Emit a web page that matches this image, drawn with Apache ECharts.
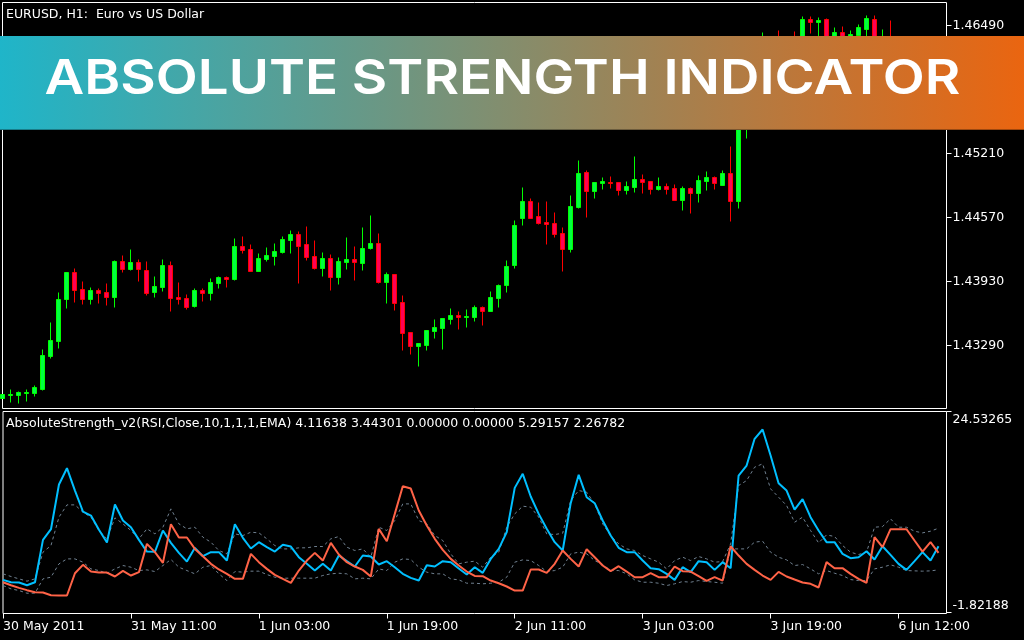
<!DOCTYPE html>
<html>
<head>
<meta charset="utf-8">
<style>html,body{margin:0;padding:0;background:#000}#chart{width:1024px;height:640px}</style>
<script src="https://cdn.jsdelivr.net/npm/echarts@6/dist/echarts.min.js"></script>
</head>
<body>
<div id="chart"></div>
<script>
// EURUSD H1 candles (bars 92 onward are mostly behind the banner, so estimated)
const opens = [1.4276,1.4279,1.4279,1.4281,1.4281,1.4285,1.4318,1.4333,1.4375,1.4402,1.4385,1.4375,1.4384,1.4382,1.4377,1.4413,1.4405,1.4412,1.4404,1.4382,1.4387,1.4409,1.4377,1.4376,1.4368,1.4384,1.4381,1.4391,1.4397,1.4395,1.4428,1.4425,1.4403,1.4415,1.4418,1.4422,1.4434,1.4440,1.4430,1.4418,1.4406,1.4416,1.4397,1.4412,1.4415,1.4411,1.4426,1.4431,1.4392,1.4400,1.4372,1.4342,1.4328,1.4329,1.4343,1.4346,1.4355,1.4359,1.4357,1.4357,1.4367,1.4363,1.4376,1.4389,1.4409,1.4456,1.4473,1.4458,1.4452,1.4451,1.4441,1.4425,1.4467,1.4502,1.4483,1.4491,1.4492,1.4492,1.4484,1.4487,1.4495,1.4493,1.4485,1.4488,1.4486,1.4474,1.4486,1.4481,1.4493,1.4497,1.4489,1.4501,1.4473,1.4574,1.4609,1.4619,1.4630,1.4634,1.4624,1.4636,1.4629,1.4655,1.4652,1.4655,1.4614,1.4642,1.4624,1.4639,1.4645,1.4655,1.4619,1.4634,1.4616,1.4609,1.4596,1.4606,1.4596,1.4588];
const closes = [1.4280,1.4280,1.4282,1.4282,1.4287,1.4319,1.4334,1.4375,1.4402,1.4384,1.4375,1.4384,1.4381,1.4377,1.4413,1.4405,1.4412,1.4405,1.4381,1.4388,1.4409,1.4376,1.4375,1.4367,1.4384,1.4381,1.4392,1.4397,1.4395,1.4428,1.4424,1.4403,1.4416,1.4419,1.4423,1.4435,1.4440,1.4428,1.4417,1.4406,1.4416,1.4397,1.4413,1.4415,1.4412,1.4426,1.4431,1.4392,1.4400,1.4371,1.4341,1.4328,1.4331,1.4344,1.4347,1.4356,1.4359,1.4357,1.4358,1.4367,1.4363,1.4377,1.4389,1.4408,1.4449,1.4473,1.4456,1.4451,1.4450,1.4440,1.4425,1.4468,1.4501,1.4483,1.4492,1.4493,1.4491,1.4484,1.4488,1.4495,1.4492,1.4485,1.4488,1.4485,1.4474,1.4486,1.4481,1.4494,1.4497,1.4491,1.4501,1.4473,1.4574,1.4614,1.4619,1.4629,1.4614,1.4624,1.4632,1.4628,1.4655,1.4652,1.4654,1.4614,1.4642,1.4624,1.4640,1.4647,1.4656,1.4624,1.4634,1.4614,1.4604,1.4602,1.4604,1.4594,1.4586,1.4579];
const lows = [1.4276,1.4272,1.4271,1.4273,1.4278,1.4284,1.4316,1.4326,1.4366,1.4372,1.4370,1.4370,1.4371,1.4369,1.4367,1.4402,1.4404,1.4393,1.4379,1.4377,1.4383,1.4363,1.4370,1.4365,1.4367,1.4373,1.4374,1.4386,1.4387,1.4394,1.4421,1.4403,1.4403,1.4413,1.4409,1.4421,1.4421,1.4391,1.4414,1.4405,1.4398,1.4384,1.4390,1.4405,1.4394,1.4404,1.4425,1.4391,1.4371,1.4364,1.4324,1.4320,1.4308,1.4324,1.4336,1.4325,1.4350,1.4345,1.4347,1.4353,1.4349,1.4363,1.4367,1.4382,1.4406,1.4449,1.4456,1.4450,1.4430,1.4437,1.4403,1.4422,1.4466,1.4457,1.4476,1.4485,1.4486,1.4479,1.4480,1.4482,1.4481,1.4480,1.4484,1.4480,1.4474,1.4464,1.4461,1.4472,1.4484,1.4485,1.4489,1.4453,1.4466,1.4536,1.4584,1.4594,1.4584,1.4599,1.4604,1.4604,1.4624,1.4641,1.4614,1.4612,1.4604,1.4599,1.4614,1.4630,1.4614,1.4614,1.4604,1.4594,1.4594,1.4589,1.4584,1.4579,1.4574,1.4564];
const highs = [1.4280,1.4285,1.4283,1.4285,1.4289,1.4325,1.4352,1.4382,1.4402,1.4406,1.4393,1.4387,1.4386,1.4391,1.4414,1.4419,1.4425,1.4415,1.4413,1.4398,1.4415,1.4413,1.4392,1.4380,1.4386,1.4386,1.4396,1.4398,1.4398,1.4436,1.4438,1.4430,1.4421,1.4427,1.4431,1.4438,1.4444,1.4443,1.4448,1.4434,1.4422,1.4420,1.4417,1.4437,1.4428,1.4447,1.4459,1.4441,1.4402,1.4400,1.4379,1.4342,1.4331,1.4344,1.4355,1.4356,1.4366,1.4363,1.4365,1.4369,1.4368,1.4383,1.4390,1.4414,1.4454,1.4487,1.4476,1.4472,1.4473,1.4462,1.4447,1.4479,1.4514,1.4504,1.4492,1.4497,1.4498,1.4492,1.4493,1.4518,1.4500,1.4493,1.4497,1.4491,1.4490,1.4488,1.4487,1.4499,1.4503,1.4498,1.4504,1.4528,1.4579,1.4624,1.4629,1.4642,1.4636,1.4644,1.4636,1.4643,1.4658,1.4658,1.4657,1.4656,1.4647,1.4648,1.4644,1.4650,1.4659,1.4659,1.4645,1.4654,1.4624,1.4624,1.4619,1.4614,1.4609,1.4604];

// AbsoluteStrength_v2 indicator lines
const bulls = [2.46,2.15,2.11,1.76,2.15,7.70,9.10,14.96,17.10,14.17,11.42,10.89,9.02,7.35,12.34,10.24,9.36,7.70,6.17,6.13,8.93,7.31,6.00,4.86,6.66,5.56,6.09,6.09,4.99,9.76,7.97,6.57,7.40,6.74,6.17,7.05,6.83,5.43,4.56,3.68,4.56,3.68,5.65,4.91,4.21,5.65,5.52,4.47,4.91,4.12,3.25,2.72,2.37,4.38,4.21,4.91,4.78,3.95,3.16,4.12,3.38,5.21,6.52,8.71,14.52,16.36,13.39,11.11,9.15,7.40,6.31,12.51,16.23,13.30,12.51,10.24,8.27,6.66,6.09,6.09,4.99,3.99,3.86,3.25,2.46,4.12,3.47,4.91,4.78,3.77,4.78,3.99,16.14,17.45,20.95,22.17,18.76,15.13,14.17,11.68,13.04,10.68,8.93,7.40,7.40,5.87,5.30,5.43,6.22,5.13,6.87,5.74,4.56,3.77,4.91,6.09,4.99,6.87];
const bears = [2.15,1.76,1.41,1.11,0.84,0.80,0.45,0.41,0.41,3.33,4.43,3.55,3.42,3.42,2.90,3.64,3.03,3.47,7.18,6.09,4.69,9.76,8.01,8.01,6.52,5.56,4.56,3.82,3.25,2.59,2.59,5.87,4.78,3.90,3.12,2.59,2.07,3.68,4.99,6.00,4.99,7.31,5.78,4.78,4.21,3.77,2.90,9.15,7.53,11.11,14.74,14.43,11.55,9.58,7.84,6.39,5.21,4.34,3.55,2.98,2.94,2.37,2.02,1.59,1.06,1.06,3.82,3.82,3.38,4.56,6.31,5.21,4.21,6.48,5.43,4.34,3.60,4.25,3.55,2.81,2.81,3.33,2.81,2.81,4.21,3.60,3.55,2.94,2.33,2.81,2.37,6.87,5.65,4.56,3.77,3.03,2.46,3.51,2.90,2.50,2.11,1.94,1.46,4.78,3.99,3.99,3.25,2.59,2.07,8.05,6.74,9.10,9.10,9.10,7.62,6.17,7.40,6.00];
const upperBand = [3.25,2.90,2.59,2.29,2.59,6.09,6.96,10.68,12.29,12.29,11.33,10.68,8.93,7.84,10.59,9.80,8.93,7.84,9.15,8.49,9.36,11.77,9.80,9.15,9.36,8.05,7.40,6.31,5.87,8.49,8.27,8.71,8.62,7.84,6.96,6.52,6.52,6.66,6.66,6.83,6.83,7.84,8.14,6.74,6.31,6.52,5.43,9.36,8.93,10.24,12.42,12.42,10.24,9.80,8.27,7.62,5.87,4.56,4.78,4.91,4.12,5.43,6.09,9.36,11.11,12.12,11.99,10.68,8.49,8.40,8.58,12.86,14.17,13.95,12.42,9.80,8.27,7.18,6.52,6.31,5.65,5.21,4.78,3.90,4.99,5.43,4.99,5.52,5.21,4.78,4.86,7.18,14.83,15.48,17.23,17.67,14.39,13.30,12.21,10.02,10.68,8.93,7.31,8.36,8.14,6.96,6.09,5.78,6.09,9.36,9.45,10.46,9.36,9.36,8.84,8.62,8.84,9.23];
const lowerBand = [1.72,1.28,1.06,0.71,0.71,2.59,2.81,4.56,5.21,5.21,4.78,3.90,3.68,3.33,3.90,4.34,4.12,3.68,3.77,3.55,4.34,5.13,4.12,3.68,3.25,4.12,4.34,3.25,2.37,3.55,3.47,3.60,3.60,3.16,2.81,2.68,2.68,2.68,2.68,2.68,3.03,3.25,3.33,3.25,2.59,2.68,2.59,3.90,3.68,4.78,5.21,5.13,4.12,3.47,3.25,3.25,2.59,2.46,2.02,2.02,1.94,2.02,2.15,2.81,4.78,5.08,4.99,4.34,3.55,3.68,4.12,5.87,6.09,5.87,4.99,4.47,3.68,3.68,3.25,2.46,2.15,2.15,2.02,1.72,1.94,2.24,2.15,2.37,2.24,2.15,2.02,6.52,6.52,6.52,7.40,7.53,6.09,5.43,5.08,4.34,4.47,3.90,3.25,3.68,3.33,3.03,2.50,2.37,2.37,3.90,4.12,4.43,4.12,3.68,3.64,3.60,3.64,3.77];

const priceTicks = [1.4329, 1.4393, 1.4457, 1.4521, 1.4585, 1.4649];
const indicatorTicks = [-1.82188, 24.53265];
const timeLabels = ['30 May 2011', '31 May 11:00', '1 Jun 03:00', '1 Jun 19:00', '2 Jun 11:00', '3 Jun 03:00', '3 Jun 19:00', '6 Jun 12:00'];
const labelStep = 16;

const chartTitle = 'EURUSD, H1:  Euro vs US Dollar';
const indicatorTitle = 'AbsoluteStrength_v2(RSI,Close,10,1,1,1,EMA) 4.11638 3.44301 0.00000 0.00000 5.29157 2.26782';
const bannerTitle = 'ABSOLUTE STRENGTH INDICATOR';

const font = 'DejaVu Sans';
const fontSize = 12.5;

// one slot per bar plus an empty one so the step comes out at 8px
const categories = [];
for (let i = 0; i < opens.length + 1; i++) {
  categories.push(i % labelStep === 0 && timeLabels[i / labelStep] ? timeLabels[i / labelStep] : '');
}
const candles = opens.map((o, i) => [o, closes[i], lows[i], highs[i]]);

const chart = echarts.init(document.getElementById('chart'));

const xAxisBase = {
  type: 'category',
  data: categories,
  boundaryGap: false,
  position: 'bottom',
  axisLine: { show: false, onZero: false },
  splitLine: { show: false }
};
const yAxisBase = {
  type: 'value',
  position: 'right',
  axisLine: { show: false },
  splitLine: { show: false }
};

function bandLine(data) {
  return {
    type: 'line', xAxisIndex: 1, yAxisIndex: 1, data: data,
    symbol: 'none', silent: true,
    lineStyle: { color: '#708090', width: 1, type: [3, 3] }
  };
}
function mainLine(data, color) {
  return {
    type: 'line', xAxisIndex: 1, yAxisIndex: 1, data: data,
    symbol: 'none', silent: true,
    lineStyle: { color: color, width: 2 }
  };
}

chart.setOption({
  animation: false,
  backgroundColor: '#000',
  // half pixel offsets keep the 1px borders and wicks crisp
  grid: [
    { left: 2.5, top: 2.5, width: 944, height: 406, show: true, borderColor: '#fff', borderWidth: 1, backgroundColor: 'transparent' },
    { left: 2.5, top: 411.5, width: 944, height: 202, show: true, borderColor: '#fff', borderWidth: 1, backgroundColor: 'transparent' }
  ],
  xAxis: [
    Object.assign({}, xAxisBase, { gridIndex: 0, axisTick: { show: false }, axisLabel: { show: false } }),
    Object.assign({}, xAxisBase, {
      gridIndex: 1,
      axisTick: { show: true, length: 5, interval: labelStep - 1, lineStyle: { color: '#fff' } },
      axisLabel: { show: true, interval: labelStep - 1, align: 'left', margin: 7, color: '#fff', fontFamily: font, fontSize: fontSize }
    })
  ],
  yAxis: [
    Object.assign({}, yAxisBase, {
      gridIndex: 0, min: 1.4266, max: 1.4672,
      axisTick: { show: true, length: 5, customValues: priceTicks, lineStyle: { color: '#fff' } },
      axisLabel: { show: true, customValues: priceTicks, margin: 6, color: '#fff', fontFamily: font, fontSize: fontSize, formatter: v => v.toFixed(5) }
    }),
    Object.assign({}, yAxisBase, {
      gridIndex: 1, min: -1.95, max: 24.53265,
      axisTick: { show: true, length: 5, customValues: indicatorTicks, lineStyle: { color: '#fff' } },
      axisLabel: {
        show: true, customValues: indicatorTicks, margin: 6, color: '#fff', fontFamily: font, fontSize: fontSize,
        lineHeight: 14, padding: [1, 0, 0, 0],
        verticalAlignMinLabel: 'bottom', verticalAlignMaxLabel: 'top',
        formatter: v => v.toFixed(5)
      }
    })
  ],
  series: [
    {
      type: 'candlestick', xAxisIndex: 0, yAxisIndex: 0, data: candles, barWidth: 4, silent: true,
      itemStyle: { color: '#00ff40', color0: '#ff0055', borderColor: '#00ff00', borderColor0: '#ff0000', borderWidth: 1 }
    },
    bandLine(upperBand),
    bandLine(lowerBand),
    mainLine(bulls, '#00bfff'),
    mainLine(bears, '#ff6347')
  ],
  graphic: [
    { type: 'text', x: 6, y: 8, style: { text: chartTitle, fill: '#fff', font: '12.5px "DejaVu Sans"' } },
    { type: 'text', x: 6, y: 417, style: { text: indicatorTitle, fill: '#fff', font: '12.5px "DejaVu Sans"' } },
    {
      type: 'rect', z: 50, shape: { x: 0, y: 36, width: 1024, height: 94 },
      style: { fill: new echarts.graphic.LinearGradient(0, 0, 1, 0, [{ offset: 0, color: '#1fb5c9' }, { offset: 1, color: '#ea6510' }]) }
    },
    { type: 'rect', z: 51, shape: { x: 0, y: 129, width: 1024, height: 1 }, style: { fill: 'rgba(0,0,0,0.3)' } },
    {
      type: 'text', z: 52, x: 502.5, y: 80, scaleX: 1.138,
      style: { text: bannerTitle, fill: '#fff', font: '600 48px Inter', align: 'center', verticalAlign: 'middle' }
    }
  ]
});
</script>
</body>
</html>
